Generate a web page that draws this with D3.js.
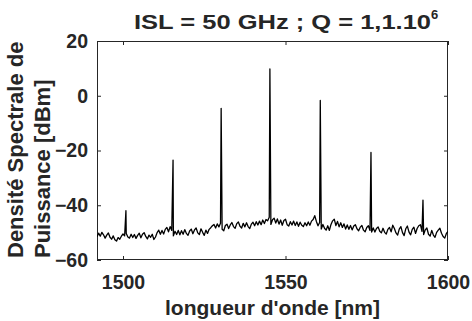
<!DOCTYPE html>
<html lang="en">
<head>
    <meta charset="UTF-8">
    <title>ISL = 50 GHz spectre</title>
    <script src="https://d3js.org/d3.v7.min.js"></script>
    <style>
        body { margin: 0; background: #fff; }
        svg text { font-family: 'Liberation Sans', Arial, sans-serif; font-weight: bold; fill: #262626; }
        .axis path, .axis line { stroke: #262626; }
    </style>
</head>
<body>
    <div id="chart"></div>

    <script>
        // Noise floor of the spectrum, one value every 0.5 nm from 1492 nm
        const floorStart = 1492;
        const floorStep = 0.5;
        const floorDb = [
            -51.5, -50.2, -51.3, -49.9, -50.8, -52.0, -50.9, -50.1, -51.7, -52.4,
            -51.2, -52.6, -53.1, -51.8, -52.4, -51.3, -50.5, -51.2, -50.3, -51.6,
            -52.0, -50.6, -51.8, -50.7, -52.1, -51.0, -50.2, -51.9, -50.6, -50.0,
            -51.4, -52.3, -50.9, -51.7, -50.6, -52.5, -51.6, -50.0, -49.1, -50.6,
            -49.2, -50.5, -48.8, -48.1, -49.7, -47.8, -49.2, -51.2, -49.5, -50.7,
            -49.2, -50.8, -49.3, -50.6, -48.9, -50.3, -51.0, -49.4, -48.7, -50.4,
            -49.0, -48.3, -50.1, -50.7, -48.6, -49.9, -51.0, -49.1, -50.3, -48.8,
            -48.2, -47.5, -47.0, -48.3, -46.8, -47.9, -46.6, -48.8, -49.3, -47.4,
            -46.9, -48.5, -47.2, -46.3, -47.8, -48.4, -46.7, -46.1, -47.7, -48.3,
            -46.6, -47.9, -46.4, -47.8, -48.5, -46.9, -46.2, -47.5, -46.0, -47.2,
            -45.8, -47.1, -45.4, -46.7, -45.2, -45.7, -44.4, -47.0, -45.3, -44.7,
            -46.5, -45.0, -46.9, -45.4, -47.3, -45.6, -45.1, -47.1, -47.6, -46.0,
            -47.2, -45.8, -47.4, -46.1, -47.7, -46.2, -47.3, -47.8, -46.4, -47.5,
            -46.1, -47.3, -45.8, -45.2, -43.8, -45.9, -47.5, -46.3, -48.7, -47.0,
            -48.4, -49.1, -47.5, -49.2, -47.0, -45.7, -45.1, -47.4, -45.9, -47.9,
            -46.4, -48.1, -46.8, -48.7, -47.2, -48.8, -47.4, -49.0, -47.6, -47.1,
            -48.6, -49.3, -48.0, -47.4, -49.1, -49.7, -48.1, -47.5, -49.2, -49.8,
            -48.3, -49.8, -48.5, -47.9, -49.5, -50.1, -48.4, -49.9, -50.5, -48.8,
            -48.1, -49.7, -47.3, -48.5, -50.1, -50.9, -48.7, -47.8, -50.0, -51.1,
            -48.6, -47.6, -49.8, -50.8, -48.8, -48.0, -50.3, -48.5, -47.5, -47.1,
            -49.5, -50.7, -49.0, -48.3, -50.6, -51.3, -49.2, -50.9, -51.7, -49.9,
            -49.1, -48.4, -50.2, -51.4, -52.0, -50.3, -49.6
        ];

        // Comb lines (wavelength in nm, peak level in dBm)
        const peakWl = [1500.9, 1515.4, 1530.2, 1545.2, 1560.7, 1576.3, 1592.3];
        const peakDb = [-42.0, -23.5, -4.6, 9.8, -1.7, -20.7, -38.1];

        const xTicks = [1500, 1550, 1600];
        const yTicks = [-60, -40, -20, 0, 20];

        const width = 472;
        const height = 321;
        const plotL = 97, plotR = 448, plotT = 41, plotB = 260;

        // build the trace: floor points plus the peak points, sorted on wavelength
        const trace = floorDb.map((v, i) => ({ wl: floorStart + i * floorStep, db: v }))
            .concat(peakWl.map((w, i) => ({ wl: w, db: peakDb[i] })))
            .sort((a, b) => a.wl - b.wl);

        const x = d3.scaleLinear().domain([1492, 1600]).range([plotL, plotR]);
        const y = d3.scaleLinear().domain([-60, 20]).range([plotB, plotT]);

        const svg = d3.select('#chart')
            .append('svg')
            .attr('width', width)
            .attr('height', height);

        svg.append('clipPath')
            .attr('id', 'plot-clip')
            .append('rect')
            .attr('x', plotL).attr('y', plotT)
            .attr('width', plotR - plotL).attr('height', plotB - plotT);

        // axes, ticks pointing inwards on the four sides
        svg.append('g')
            .attr('class', 'axis')
            .attr('transform', `translate(0,${plotB})`)
            .call(d3.axisBottom(x).tickValues(xTicks).tickFormat(d3.format('d'))
                .tickSizeInner(-4).tickSizeOuter(0).tickPadding(15))
            .call(g => g.selectAll('text').style('font-size', '19.5px'));

        svg.append('g')
            .attr('class', 'axis')
            .attr('transform', `translate(0,${plotT})`)
            .call(d3.axisTop(x).tickValues(xTicks).tickSizeInner(-4).tickSizeOuter(0).tickFormat(''));

        svg.append('g')
            .attr('class', 'axis')
            .attr('transform', `translate(${plotL},0)`)
            .call(d3.axisLeft(y).tickValues(yTicks).tickSizeInner(-4).tickSizeOuter(0).tickPadding(9))
            .call(g => g.selectAll('text').style('font-size', '19.5px'));

        svg.append('g')
            .attr('class', 'axis')
            .attr('transform', `translate(${plotR},0)`)
            .call(d3.axisRight(y).tickValues(yTicks).tickSizeInner(-4).tickSizeOuter(0).tickFormat(''));

        svg.selectAll('.axis .domain').remove();

        // frame
        svg.append('rect')
            .attr('x', plotL + 0.5).attr('y', plotT + 0.5)
            .attr('width', plotR - plotL - 1).attr('height', plotB - plotT - 1)
            .attr('fill', 'none')
            .attr('stroke', '#262626')
            .attr('stroke-width', 1);

        // spectrum
        const line = d3.line()
            .x(d => x(d.wl))
            .y(d => y(d.db));

        svg.append('path')
            .datum(trace)
            .attr('clip-path', 'url(#plot-clip)')
            .attr('d', line)
            .attr('fill', 'none')
            .attr('stroke', '#000')
            .attr('stroke-width', 1.3)
            .attr('stroke-linejoin', 'round');

        // title
        svg.append('text')
            .attr('x', 134).attr('y', 29)
            .attr('textLength', 297)
            .attr('lengthAdjust', 'spacingAndGlyphs')
            .style('font-size', '20px')
            .text('ISL = 50 GHz ; Q = 1,1.10');
        svg.append('text')
            .attr('x', 431).attr('y', 19)
            .style('font-size', '13px')
            .text('6');

        // x label
        svg.append('text')
            .attr('x', (plotL + plotR) / 2).attr('y', 315)
            .attr('text-anchor', 'middle')
            .style('font-size', '21px')
            .text("longueur d'onde [nm]");

        // y label, two lines
        const yLabel = svg.append('text')
            .attr('transform', 'translate(0,258) rotate(-90)')
            .style('font-size', '22px');
        yLabel.append('tspan').attr('x', 0).attr('y', 23).text('Densité Spectrale de');
        yLabel.append('tspan').attr('x', 0).attr('y', 50).text('Puissance [dBm]');
    </script>
</body>
</html>
